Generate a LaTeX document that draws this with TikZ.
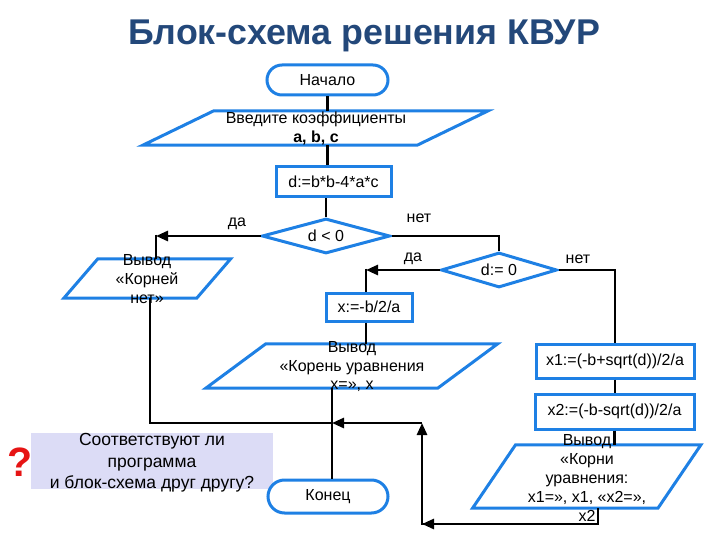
\documentclass[tikz,border=0pt]{standalone}
\usepackage{fontspec}
\setmainfont{Liberation Sans}
\usetikzlibrary{shapes.geometric,shapes.misc,arrows.meta}
\definecolor{bblue}{RGB}{30,128,228}
\definecolor{tblue}{RGB}{35,72,122}
\definecolor{qfill}{RGB}{220,220,246}
\definecolor{qred}{RGB}{230,20,20}
\begin{document}
\begin{tikzpicture}[x=1pt,y=-1pt,
  txt/.style={font=\fontsize{16}{19}\selectfont, align=center, inner sep=0pt},
  bline/.style={draw=bblue, line width=3pt},
  term/.style={rounded rectangle, bline, fill=white, inner sep=0pt, font=\fontsize{16}{19}\selectfont},
  procbox/.style={rectangle, bline, fill=white, inner sep=0pt, font=\fontsize{16}{19}\selectfont},
  decis/.style={diamond, bline, fill=white, inner sep=0pt, aspect=3.6, font=\fontsize{16}{19}\selectfont},
  pbox/.style={rectangle, inner sep=0pt, draw=none},
  flow/.style={draw=black, line width=2.7pt},
  tip/.style={-{Triangle[length=12pt,width=10pt]}}
]
\useasboundingbox (0,0) rectangle (720,540);

% title
\node[font=\fontsize{35.8}{42}\selectfont\bfseries, text=tblue, anchor=base, inner sep=0pt] (title) at (364,45) {Блок-схема решения КВУР};

% question box
\node[rectangle, fill=qfill, minimum width=242pt, minimum height=56pt, inner sep=0pt] (qbox) at (152,461) {};
\node[txt, font=\fontsize{17.5}{21.5}\selectfont] (qtext) at (152,463) {Соответствуют ли\\программа\\и блок-схема друг другу?};
\node[font=\fontsize{41}{44}\selectfont\bfseries, text=qred, inner sep=0pt] (qmark) at (20,462) {?};

% nodes
\node[term, minimum width=121pt, minimum height=30pt] (start) at (327.5,80) {Начало};

\node[pbox, minimum width=274pt, minimum height=34pt] (in1) at (315.5,128) {};
\draw[bline] ([xshift=35.5pt]in1.north west) -- ([xshift=35.5pt]in1.north east) -- ([xshift=-35.5pt]in1.south east) -- ([xshift=-35.5pt]in1.south west) -- cycle;
\node[txt] (in1t) at (316,128.5) {Введите коэффициенты\\\textbf{a, b, c}};

\node[procbox, minimum width=115pt, minimum height=30pt] (calc) at (333.5,182) {d:=b*b-4*a*c};

\node[decis, minimum width=128pt, minimum height=35pt] (dec1) at (326,236) {d < 0};

\node[pbox, minimum width=132.5pt, minimum height=39pt] (out1) at (147.25,278.5) {};
\draw[bline] ([xshift=17pt]out1.north west) -- ([xshift=17pt]out1.north east) -- ([xshift=-17pt]out1.south east) -- ([xshift=-17pt]out1.south west) -- cycle;
\node[txt] (out1t) at (147,279) {Вывод\\«Корней\\нет»};

\node[decis, minimum width=116pt, minimum height=35pt] (dec2) at (499,270) {d:= 0};

\node[procbox, minimum width=86pt, minimum height=28pt] (xb) at (369,307) {x:=-b/2/a};

\node[pbox, minimum width=231.5pt, minimum height=44pt] (out2) at (351.75,366) {};
\draw[bline] ([xshift=30pt]out2.north west) -- ([xshift=30pt]out2.north east) -- ([xshift=-30pt]out2.south east) -- ([xshift=-30pt]out2.south west) -- cycle;
\node[txt, font=\fontsize{16}{18.5}\selectfont] (out2t) at (352,367) {Вывод\\«Корень уравнения\\x=», x};

\node[procbox, minimum width=158pt, minimum height=34pt] (x1) at (615,361) {x1:=(-b+sqrt(d))/2/a};
\node[procbox, minimum width=159pt, minimum height=35pt] (x2) at (614.5,411.5) {x2:=(-b-sqrt(d))/2/a};

\node[pbox, minimum width=185pt, minimum height=63pt] (out3) at (586.75,476.5) {};
\draw[bline] ([xshift=21.5pt]out3.north west) -- ([xshift=21.5pt]out3.north east) -- ([xshift=-21.5pt]out3.south east) -- ([xshift=-21.5pt]out3.south west) -- cycle;

\node[term, minimum width=120pt, minimum height=33pt] (end) at (328,496.5) {Конец};

% labels
\node[txt] (l1) at (237,224) {да};
\node[txt] (l2) at (419,218) {нет};
\node[txt] (l3) at (413,259) {да};
\node[txt] (l4) at (578,259) {нет};

% coordinates
\coordinate (c1) at (156,236);
\coordinate (c2) at (366,270);
\coordinate (j0) at (150,423);
\coordinate (j1) at (332,423);
\coordinate (j2) at (422,423);
\coordinate (j3) at (422,524);
\coordinate (j4) at (598,524);

% connectors
\draw[flow] (start.south) -- (start.south |- in1.north);
\draw[flow] (start.south |- in1.south) -- (start.south |- calc.north);
\draw[flow] (dec1.north |- calc.south) -- (dec1.north);
\draw[flow,tip] (dec1.west) -- (c1);
\draw[flow] ([yshift=1.3pt]c1) -- (c1 |- out1.north);
\draw[flow] (dec1.east) -| (dec2.north);
\draw[flow,tip] (dec2.west) -- (c2);
\draw[flow] ([yshift=1.3pt]c2) -- (c2 |- xb.north);
\draw[flow] (c2 |- xb.south) -- (c2 |- out2.north);
\draw[flow] (dec2.east) -| (x1.north);
\draw[flow] (x1.south) -- (x1.south |- x2.north);
\draw[flow] (x2.south) -- (x2.south |- out3.north);
\draw[flow] (j0 |- out1.south) -- (j0) -- (j1);
\draw[flow] (j1 |- out2.south) -- (j1 |- end.north);
\draw[flow,tip] (j2) -- (j1);
\draw[flow] (j4 |- out3.south) -- (j4) -- ([xshift=-1.3pt]j3);
\draw[flow,tip] (j4) -- (j3);
\draw[flow,tip] ([yshift=1.3pt]j3) -- (j2);

\node[txt] (out3t) at (587,478) {Вывод\\«Корни\\уравнения:\\x1=», x1, «x2=»,\\x2};
\end{tikzpicture}
\end{document}
